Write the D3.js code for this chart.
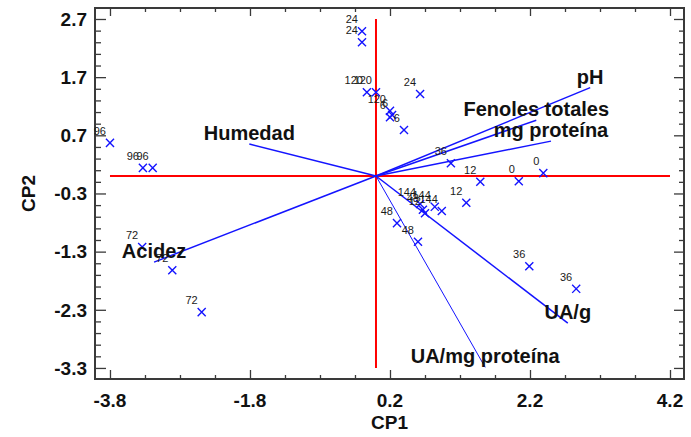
<!DOCTYPE html>
<html>
<head>
<meta charset="utf-8">
<script src="https://cdn.jsdelivr.net/npm/d3@7"></script>
<style>
  html, body { margin: 0; padding: 0; background: #fff; }
  svg { display: block; }
  text { font-family: "Liberation Sans", Arial, sans-serif; }
</style>
</head>
<body>
<svg id="chart" width="691" height="437"></svg>
<script>
// Sample scores (time labels, hours) on the first two principal components
const sampleLabels = ["96", "96", "96", "72", "72", "72", "24", "24", "120", "120", "24",
  "120", "6", "6", "6", "36", "12", "0", "0", "12", "144", "48", "144", "144", "12",
  "48", "48", "36", "36"];
const sampleCP1 = [-3.80, -3.33, -3.19, -3.34, -2.91, -2.49, -0.20, -0.20, -0.13, 0.00, 0.63,
  0.20, 0.23, 0.20, 0.40, 1.07, 1.49, 2.04, 2.39, 1.29, 0.63, 0.67, 0.84, 0.94, 0.70,
  0.30, 0.60, 2.19, 2.86];
const sampleCP2 = [0.57, 0.14, 0.14, -1.22, -1.62, -2.34, 2.49, 2.30, 1.44, 1.44, 1.41,
  1.12, 1.05, 1.01, 0.79, 0.22, -0.10, -0.09, 0.05, -0.46, -0.48, -0.58, -0.53, -0.60, -0.64,
  -0.81, -1.13, -1.55, -1.94];

// Variable loadings (biplot vectors)
const variableNames = ["pH", "Fenoles totales", "mg proteína", "Humedad", "Acidez", "UA/g", "UA/mg proteína"];
const variableCP1 = [3.06, 2.29, 2.50, -1.81, -3.17, 2.74, 1.56];
const variableCP2 = [1.52, 0.96, 0.60, 0.55, -1.48, -2.53, -3.29];

// Axis ticks
const xTickValues = [-3.8, -1.8, 0.2, 2.2, 4.2];
const yTickValues = [2.7, 1.7, 0.7, -0.3, -1.3, -2.3, -3.3];
const xMinorStep = 0.5;
const yMinorStep = 0.2;

const svg = d3.select("#chart");
const plotLeft = 95, plotRight = 684, plotTop = 8, plotBottom = 379;

const x = d3.scaleLinear().domain([-4.014, 4.4]).range([plotLeft, plotRight]);
const y = d3.scaleLinear().domain([-3.49, 2.889]).range([plotBottom, plotTop]);

const minorX = d3.range(0, 17).map(i => +(-3.8 + i * xMinorStep).toFixed(2));
const minorY = d3.range(0, 31).map(i => +(2.7 - i * yMinorStep).toFixed(2));
const isMajorX = v => xTickValues.some(t => Math.abs(t - v) < 1e-6);
const isMajorY = v => yTickValues.some(t => Math.abs(t - v) < 1e-6);

const axisColor = "#3a3a3a";
const axB = d3.axisBottom(x), axT = d3.axisTop(x), axL = d3.axisLeft(y), axR = d3.axisRight(y);

// Frame ticks, pointing inward on all four sides
function frameAxis(gen, pos, vals, isMajor, major, minor) {
  const g = svg.append("g").attr("transform", pos).call(
    gen.tickValues(vals).tickFormat("").tickSizeOuter(0)
  );
  g.selectAll(".tick line")
    .attr("stroke", axisColor).attr("stroke-width", 1.3)
    .each(function(d) {
      const len = isMajor(d) ? major : minor;
      const el = d3.select(this);
      if (gen === axB) el.attr("y2", -len);
      else if (gen === axT) el.attr("y2", len);
      else if (gen === axL) el.attr("x2", len);
      else el.attr("x2", -len);
    });
  g.select(".domain").remove();
  return g;
}
frameAxis(axB, `translate(0,${plotBottom})`, minorX, isMajorX, 9, 4);
frameAxis(axT, `translate(0,${plotTop})`, minorX, isMajorX, 8, 4);
frameAxis(axL, `translate(${plotLeft},0)`, minorY, isMajorY, 11, 6);
frameAxis(axR, `translate(${plotRight},0)`, minorY, isMajorY, 10, 5);

// Frame border
svg.append("rect")
  .attr("x", plotLeft).attr("y", plotTop)
  .attr("width", plotRight - plotLeft).attr("height", plotBottom - plotTop)
  .attr("fill", "none").attr("stroke", axisColor).attr("stroke-width", 2);

// Tick labels
svg.append("g").selectAll("text").data(xTickValues).join("text")
  .attr("x", d => x(d)).attr("y", plotBottom + 28)
  .attr("text-anchor", "middle")
  .attr("font-size", 19).attr("font-weight", "bold").attr("fill", "#111")
  .text(d => d.toFixed(1));
svg.append("g").selectAll("text").data(yTickValues).join("text")
  .attr("x", plotLeft - 8).attr("y", d => y(d))
  .attr("dy", "0.36em")
  .attr("text-anchor", "end")
  .attr("font-size", 19).attr("font-weight", "bold").attr("fill", "#111")
  .text(d => d.toFixed(1));

// Axis titles
svg.append("text")
  .attr("x", (plotLeft + plotRight) / 2).attr("y", 429)
  .attr("text-anchor", "middle")
  .attr("font-size", 19).attr("font-weight", "bold").attr("fill", "#111")
  .text("CP1");
svg.append("text")
  .attr("transform", `translate(35,${(plotTop + plotBottom) / 2}) rotate(-90)`)
  .attr("text-anchor", "middle")
  .attr("font-size", 19).attr("font-weight", "bold").attr("fill", "#111")
  .text("CP2");

// Reference lines through the origin
svg.append("line")
  .attr("x1", x(xTickValues[0])).attr("x2", x(xTickValues[xTickValues.length - 1]))
  .attr("y1", y(0)).attr("y2", y(0))
  .attr("stroke", "#ff0000").attr("stroke-width", 2);
svg.append("line")
  .attr("x1", x(0)).attr("x2", x(0))
  .attr("y1", y(yTickValues[0])).attr("y2", y(yTickValues[yTickValues.length - 1]))
  .attr("stroke", "#ff0000").attr("stroke-width", 2);

const blue = "#1414ff";

// Loading vectors
const vars = variableNames.map((name, i) => ({ name, cp1: variableCP1[i], cp2: variableCP2[i] }));
svg.append("g").selectAll("line").data(vars).join("line")
  .attr("x1", x(0)).attr("y1", y(0))
  .attr("x2", d => x(d.cp1)).attr("y2", d => y(d.cp2))
  .attr("stroke", blue)
  .attr("stroke-width", d => d.name === "UA/mg proteína" ? 1 : 1.5);

// Sample markers and their labels
const samples = sampleLabels.map((label, i) => ({ label, cp1: sampleCP1[i], cp2: sampleCP2[i] }));
const xMark = d3.symbol().type(d3.symbolX).size(44);
svg.append("g").selectAll("path").data(samples).join("path")
  .attr("transform", d => `translate(${x(d.cp1)},${y(d.cp2)})`)
  .attr("d", xMark)
  .attr("fill", "none").attr("stroke", blue).attr("stroke-width", 1.4);
svg.append("g").selectAll("text").data(samples).join("text")
  .attr("x", d => x(d.cp1) - 4).attr("y", d => y(d.cp2) - 8)
  .attr("text-anchor", "end")
  .attr("font-size", 11).attr("fill", "#1a1a1a")
  .text(d => d.label);

// Variable names at the vector tips
svg.append("g").selectAll("text").data(vars).join("text")
  .attr("x", d => x(d.cp1)).attr("y", d => y(d.cp2) - 4)
  .attr("text-anchor", "middle")
  .attr("font-size", 20).attr("font-weight", "bold").attr("fill", "#111")
  .text(d => d.name);
</script>
</body>
</html>
